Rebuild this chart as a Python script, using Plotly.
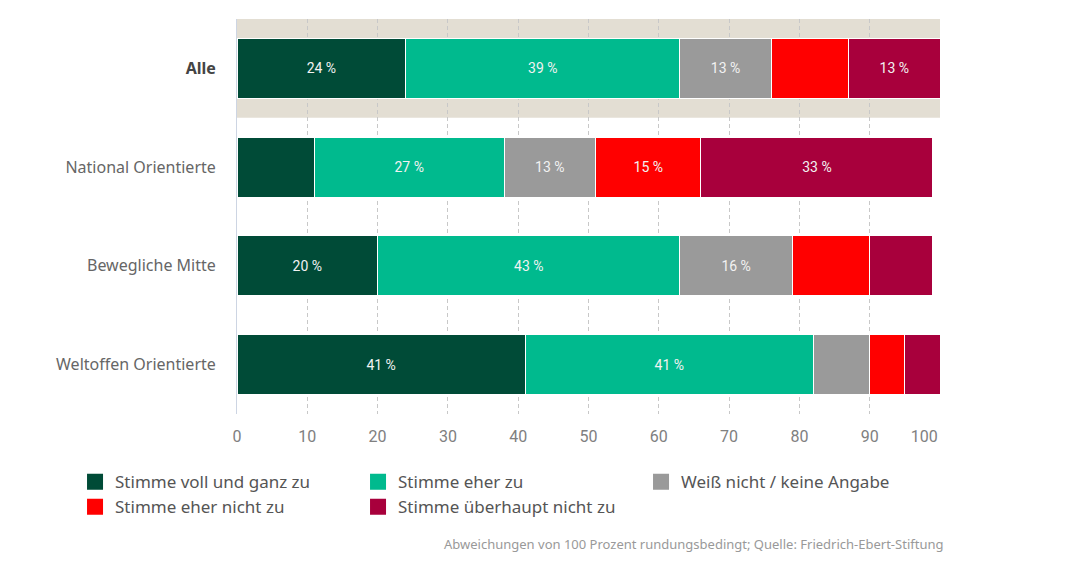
import plotly.graph_objects as go

categories = ["Alle", "National Orientierte", "Bewegliche Mitte", "Weltoffen Orientierte"]
series_names = ["Stimme voll und ganz zu", "Stimme eher zu", "Weiß nicht / keine Angabe",
                "Stimme eher nicht zu", "Stimme überhaupt nicht zu"]
voll_und_ganz = [24, 11, 20, 41]
eher_zu = [39, 27, 43, 41]
weiss_nicht = [13, 13, 16, 8]
eher_nicht = [11, 15, 11, 5]
ueberhaupt_nicht = [13, 33, 9, 5]
series_values = [voll_und_ganz, eher_zu, weiss_nicht, eher_nicht, ueberhaupt_nicht]
colors = ["#004b37", "#00ba8e", "#9a9a9a", "#ff0000", "#a8003c"]

x_tickvals = [0, 10, 20, 30, 40, 50, 60, 70, 80, 90, 100]
x_ticktext = ["0", "10", "20", "30", "40", "50", "60", "70", "80", "90", "100&nbsp;&nbsp;&nbsp;&nbsp;&nbsp;&nbsp;&nbsp;&nbsp;"]
y_ticktext = ['<b><span style="color:#444">Alle</span></b>', "National Orientierte",
              "Bewegliche Mitte", "Weltoffen Orientierte"]

fig = go.Figure()
for name, vals, col in zip(series_names, series_values, colors):
    fig.add_trace(go.Bar(
        y=categories, x=vals, orientation="h", name=name,
        marker=dict(color=col, line=dict(color="white", width=1)),
        text=[f"{v} %" if v >= 12 else "" for v in vals],
        textposition="inside", insidetextanchor="middle",
        textfont=dict(color="#f2f2f2", size=14, family="Roboto"),
        width=0.61, showlegend=False, hoverinfo="skip",
    ))
for name, col in zip(series_names, colors):
    fig.add_trace(go.Scatter(
        x=[None], y=[None], mode="markers", name=name,
        marker=dict(symbol="square", size=16, color=col),
        showlegend=True,
    ))

fig.add_shape(type="rect", xref="x", yref="y", x0=0, x1=100, y0=-0.5, y1=0.5,
              fillcolor="#e3ded3", line=dict(width=0), layer="below")

fig.update_layout(
    width=1080, height=568,
    margin=dict(l=229, r=148, t=10.5, b=161.5),
    paper_bgcolor="white", plot_bgcolor="white",
    barmode="stack",
    font=dict(family="Noto Sans", color="#666"),
    xaxis=dict(range=[0, 100], tickvals=x_tickvals, ticktext=x_ticktext,
               showgrid=True, gridcolor="#c8c8c8", griddash="4px,3px", gridwidth=1,
               zeroline=False, showline=False, ticks="",
               tickfont=dict(size=16, color="#808080", family="Roboto"),
               ticklabelstandoff=11, fixedrange=True),
    yaxis=dict(categoryorder="array", categoryarray=categories,
               tickvals=categories, ticktext=y_ticktext, autorange="reversed",
               showgrid=False, showline=True, linecolor="#cdd5e3", linewidth=1,
               ticks="", ticklabelstandoff=17,
               tickfont=dict(size=16, color="#666", family="Noto Sans")),
    legend=dict(orientation="h", x=-0.2304, xanchor="left", y=-0.127, yanchor="top",
                entrywidth=238, entrywidthmode="pixels", traceorder="normal",
                font=dict(size=17, color="#555", family="Noto Sans"),
                itemclick=False, itemdoubleclick=False, tracegroupgap=0),
    annotations=[dict(text="Abweichungen von 100 Prozent rundungsbedingt; Quelle: Friedrich-Ebert-Stiftung",
                      xref="paper", yref="paper", x=1.007, y=-0.33, xanchor="right", yanchor="middle",
                      showarrow=False, font=dict(size=13, color="#999", family="Noto Sans"))],
)

fig.write_html("out.html")
